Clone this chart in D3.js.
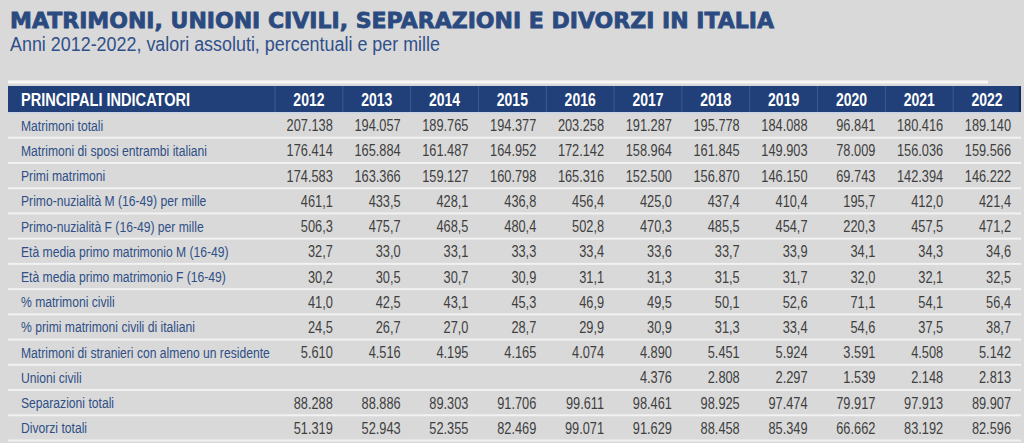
<!DOCTYPE html>
<html><head><meta charset="utf-8">
<script src="https://cdn.jsdelivr.net/npm/d3@7"></script>
<style>
html,body{margin:0;padding:0;background:#d9d9d9;}
svg{display:block;}
</style></head>
<body>
<svg id="c" width="1024" height="443"></svg>
<script>
const title = "MATRIMONI, UNIONI CIVILI, SEPARAZIONI E DIVORZI IN ITALIA";
const subtitle = "Anni 2012-2022, valori assoluti, percentuali e per mille";
const headerLabel = "PRINCIPALI INDICATORI";
const years = ["2012","2013","2014","2015","2016","2017","2018","2019","2020","2021","2022"];
const indicators = [
  "Matrimoni totali",
  "Matrimoni di sposi entrambi italiani",
  "Primi matrimoni",
  "Primo-nuzialità M (16-49) per mille",
  "Primo-nuzialità F (16-49) per mille",
  "Età media primo matrimonio M (16-49)",
  "Età media primo matrimonio F (16-49)",
  "% matrimoni civili",
  "% primi matrimoni civili di italiani",
  "Matrimoni di stranieri con almeno un residente",
  "Unioni civili",
  "Separazioni totali",
  "Divorzi totali"
];
const matrimoniTotali = ["207.138","194.057","189.765","194.377","203.258","191.287","195.778","184.088","96.841","180.416","189.140"];
const sposiItaliani = ["176.414","165.884","161.487","164.952","172.142","158.964","161.845","149.903","78.009","156.036","159.566"];
const primiMatrimoni = ["174.583","163.366","159.127","160.798","165.316","152.500","156.870","146.150","69.743","142.394","146.222"];
const primoNuzM = ["461,1","433,5","428,1","436,8","456,4","425,0","437,4","410,4","195,7","412,0","421,4"];
const primoNuzF = ["506,3","475,7","468,5","480,4","502,8","470,3","485,5","454,7","220,3","457,5","471,2"];
const etaM = ["32,7","33,0","33,1","33,3","33,4","33,6","33,7","33,9","34,1","34,3","34,6"];
const etaF = ["30,2","30,5","30,7","30,9","31,1","31,3","31,5","31,7","32,0","32,1","32,5"];
const pctCivili = ["41,0","42,5","43,1","45,3","46,9","49,5","50,1","52,6","71,1","54,1","56,4"];
const pctPrimiCivili = ["24,5","26,7","27,0","28,7","29,9","30,9","31,3","33,4","54,6","37,5","38,7"];
const stranieri = ["5.610","4.516","4.195","4.165","4.074","4.890","5.451","5.924","3.591","4.508","5.142"];
const unioniCivili = ["","","","","","4.376","2.808","2.297","1.539","2.148","2.813"];
const separazioni = ["88.288","88.886","89.303","91.706","99.611","98.461","98.925","97.474","79.917","97.913","89.907"];
const divorzi = ["51.319","52.943","52.355","82.469","99.071","91.629","88.458","85.349","66.662","83.192","82.596"];

const values = [matrimoniTotali, sposiItaliani, primiMatrimoni, primoNuzM, primoNuzF, etaM, etaF,
  pctCivili, pctPrimiCivili, stranieri, unioniCivili, separazioni, divorzi];

const svg = d3.select("#c");
const SANS = "'Liberation Sans',Arial,sans-serif";
const tableLeft = 8, labelRight = 275, tableRight = 1021;
const headerTop = 86, headerBottom = 113, rowsBottom = 441;

// helper: place condensed text at anchor point
function placeAt(sel, fx, fy, sx) {
  return sel.attr("x", 0).attr("y", 0)
    .attr("transform", (d, i) => `translate(${fx(d, i)},${fy(d, i)}) scale(${sx},1)`);
}

// title
svg.append("text").attr("x", 10).attr("y", 28)
  .attr("font-family", "'DejaVu Sans',sans-serif").attr("font-weight", "bold")
  .attr("font-size", 22).attr("fill", "#2b4a80").attr("stroke", "#2b4a80").attr("stroke-width", 0.8)
  .attr("textLength", 764).attr("lengthAdjust", "spacingAndGlyphs")
  .text(title);
svg.append("text").attr("x", 10).attr("y", 51)
  .attr("font-family", SANS).attr("font-size", 19.5).attr("fill", "#30508a")
  .attr("textLength", 430).attr("lengthAdjust", "spacingAndGlyphs")
  .text(subtitle);

// white line above header
svg.append("rect").attr("x", tableLeft).attr("y", 80.5).attr("width", 980).attr("height", 3).attr("fill", "#f7f7f7");

const x = d3.scaleBand().domain(years).range([labelRight, tableRight]);
const y = d3.scaleBand().domain(indicators).range([headerBottom, rowsBottom]);

// header
svg.append("rect").attr("x", tableLeft).attr("y", headerTop).attr("width", tableRight - tableLeft)
  .attr("height", headerBottom - headerTop).attr("fill", "#213f78");
svg.append("rect").attr("x", tableRight - 2).attr("y", headerTop).attr("width", 2)
  .attr("height", headerBottom - headerTop).attr("fill", "#162d59");
svg.selectAll("line.hsep").data(years).join("line").attr("class", "hsep")
  .attr("x1", d => x(d)).attr("x2", d => x(d)).attr("y1", headerTop).attr("y2", headerBottom)
  .attr("stroke", "#3d5a92").attr("stroke-width", 1);
svg.append("rect").attr("x", tableLeft).attr("y", headerBottom - 1).attr("width", tableRight - tableLeft)
  .attr("height", 1.5).attr("fill", "#c9d3e6");

placeAt(svg.append("text").datum(headerLabel), () => 21, () => headerTop + 19.5, 0.81)
  .attr("font-family", SANS).attr("font-weight", "bold").attr("font-size", 18).attr("fill", "#ffffff")
  .text(d => d);
placeAt(svg.selectAll("text.yr").data(years).join("text").attr("class", "yr"),
    d => x(d) + x.bandwidth() / 2, () => headerTop + 19.5, 0.8)
  .attr("text-anchor", "middle").attr("font-family", SANS).attr("font-weight", "bold")
  .attr("font-size", 17.5).attr("fill", "#ffffff").text(d => d);

// row separators
svg.selectAll("rect.sep").data(indicators).join("rect").attr("class", "sep")
  .attr("x", tableLeft).attr("width", tableRight - tableLeft)
  .attr("y", d => y(d) + y.bandwidth() - 1.5).attr("height", 2).attr("fill", "#f2f2f2");

// labels
placeAt(svg.selectAll("text.lab").data(indicators).join("text").attr("class", "lab"),
    () => 21, d => y(d) + y.bandwidth() / 2 + 5, 0.81)
  .attr("font-family", SANS).attr("font-size", 15).attr("fill", "#2f4f86").text(d => d);

// values
const cells = [];
indicators.forEach((ind, i) => years.forEach((yr, j) => cells.push({ind, yr, v: values[i][j]})));
placeAt(svg.selectAll("text.val").data(cells.filter(c => c.v !== "")).join("text").attr("class", "val"),
    d => x(d.yr) + x.bandwidth() - 10, d => y(d.ind) + y.bandwidth() / 2 + 5.5, 0.8)
  .attr("text-anchor", "end").attr("font-family", SANS).attr("font-size", 16).attr("fill", "#3f3f3f")
  .text(d => d.v);
</script>
</body></html>
